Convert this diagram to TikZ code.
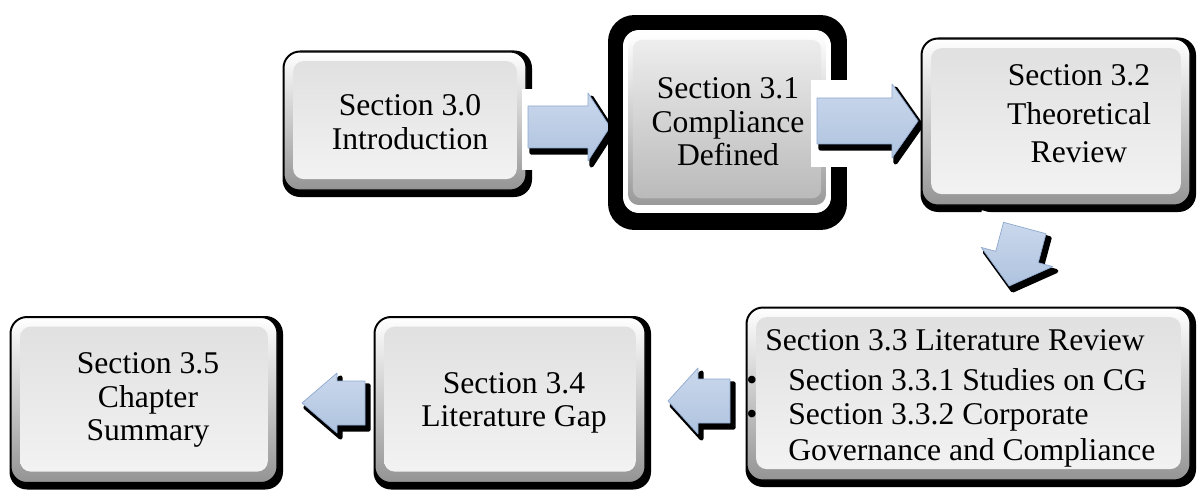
\documentclass[tikz,border=0pt]{standalone}
\usepackage{fontspec}
\setmainfont{Liberation Serif}
\usetikzlibrary{calc}

\definecolor{arrowtop}{HTML}{CAD8EC}
\definecolor{arrowbot}{HTML}{AFC3DF}
\definecolor{arrowedge}{HTML}{8FA9CF}

\tikzset{
  facebox/.style={rectangle, rounded corners=9pt, inner sep=0pt, draw=black, line width=0.6pt,
    top color=white, middle color=black!8, bottom color=black!42},
  insetface/.style={top color=black!12, bottom color=black!5},
  keyface/.style={rectangle, rounded corners=6pt, inner sep=0pt,
    top color=white, middle color=black!12, bottom color=black!40},
  keyinset/.style={top color=black!7, bottom color=black!27},
  boxtext/.style={font=\fontsize{18}{19}\selectfont, align=center, inner sep=0pt},
  linetext/.style={font=\fontsize{18}{19}\selectfont, inner sep=0pt, anchor=base west},
  arrowface/.style={top color=arrowtop, bottom color=arrowbot, draw=arrowedge, line width=0.4pt, line join=round},
  arrowshadow/.style={fill=black, draw=black, line width=2.4pt, line join=round},
}

% rounded bevelled box with a black drop shadow: name, centre, width, height (px)
\newcommand\bevelbox[4]{%
  \fill[black, rounded corners=10pt] ($(#2)+({-#3/2-1.5},{-#4/2-1.5})$) rectangle ($(#2)+({#3/2+6},{#4/2+7})$);
  \node[facebox, minimum width={#3*0.02cm}, minimum height={#4*0.02cm}] (#1) at (#2) {};
  \shade[insetface, rounded corners=6pt] ($(#1.north west)+(5.5pt,-5.5pt)$) rectangle ($(#1.south east)+(-5.5pt,6.5pt)$);
}

% block arrow: name, base of head, angle, shaft length, head length, shaft half width, head half width
\newcommand\blockarrow[7]{%
  \coordinate (#1) at (#2);
  \begin{scope}[shift={(#1)}]
    \begin{scope}[rotate=#3]
      \fill[white] ({-#4-6},{-#7-4}) rectangle ({#5+8},{#7+9});
    \end{scope}
    \begin{scope}[shift={(3.5,4.5)}, rotate=#3]
      \filldraw[arrowshadow] (-#4,-#6) -- (0,-#6) -- (0,-#7) -- (#5,0) -- (0,#7) -- (0,#6) -- (-#4,#6) -- cycle;
    \end{scope}
    \begin{scope}[rotate=#3]
      \shade[arrowface] (-#4,-#6) -- (0,-#6) -- (0,-#7) -- (#5,0) -- (0,#7) -- (0,#6) -- (-#4,#6) -- cycle;
    \end{scope}
  \end{scope}}

\begin{document}
\begin{tikzpicture}[x=0.02cm, y=-0.02cm]
  \useasboundingbox[fill=white] (0,0) rectangle (1202,493);

  % Section 3.0
  \bevelbox{b30}{405,121}{242}{138}
  \node[boxtext] (t30) at (410,122) {Section 3.0\\Introduction};

  \blockarrow{a1}{588,127}{0}{60}{22}{21}{34}

  % Section 3.1, framed
  \node[rectangle, rounded corners=15pt, fill=black, minimum width=4.78cm, minimum height=4.3cm] (f31) at (727.5,122.5) {};
  \node[rectangle, rounded corners=9pt, fill=white, minimum width=4.16cm, minimum height=3.66cm] (w31) at (727,121.5) {};
  \node[keyface, minimum width=3.96cm, minimum height=3.4cm] (b31) at (727,120) {};
  \shade[keyinset, rounded corners=5pt] ($(b31.north west)+(3pt,-3pt)$) rectangle ($(b31.south east)+(-3pt,4pt)$);
  \node[boxtext] (t31) at (728,122) {Section 3.1\\Compliance\\Defined};

  \blockarrow{a2}{892,121}{0}{75}{26}{23}{37}

  % Section 3.2
  \bevelbox{b32}{1056,122}{268}{166}
  \node[boxtext, font=\fontsize{18}{22}\selectfont] (t32) at (1079,114) {Section 3.2\\Theoretical\\Review};

  \blockarrow{a3}{1017,257}{-105}{30}{30}{22}{37}

  % Section 3.3
  \bevelbox{b33}{968.5,394}{443}{172}
  \node[linetext] (t33) at (765,350) {Section 3.3 Literature Review};
  \node[linetext] (p331) at (746,390) {\textbullet};
  \node[linetext] (t331) at (788,390) {Section 3.3.1 Studies on CG};
  \node[linetext] (p332) at (746,424) {\textbullet};
  \node[linetext] (t332) at (788,424) {Section 3.3.2 Corporate};
  \node[linetext] (t332b) at (788,460) {Governance and Compliance};

  \blockarrow{a4}{698,401}{180}{32}{30}{22}{33}

  % Section 3.4
  \bevelbox{b34}{510,400}{270}{165}
  \node[boxtext] (t34) at (514,403) {Section 3.4\\Literature Gap};

  \blockarrow{a5}{337,403}{180}{28}{35}{22}{30}

  % Section 3.5
  \bevelbox{b35}{144,400}{266}{165}
  \node[boxtext] (t35) at (148,400) {Section 3.5\\Chapter\\Summary};
\end{tikzpicture}
\end{document}
